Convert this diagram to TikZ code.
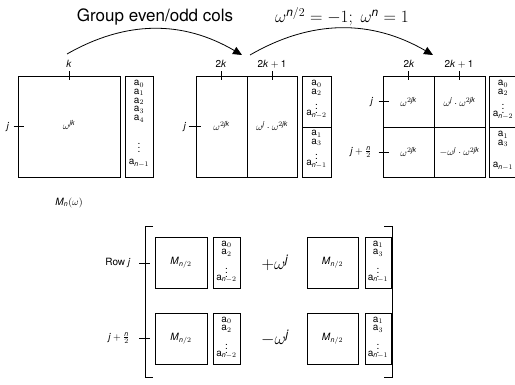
\documentclass[tikz,border=0pt]{standalone}
\usepackage{amsmath}
\usepackage{fontspec}
\setmainfont{TeX Gyre Heros}
\usetikzlibrary{arrows.meta}
\newcommand{\vi}[1]{\textit{#1}}
\begin{document}
\begin{tikzpicture}[x=1pt,y=-1pt,
  bx/.style={draw, line width=0.8pt, inner sep=0pt},
  tx/.style={inner sep=0pt, font=\fontsize{10}{10}\selectfont},
  vec/.style={inner sep=0pt, align=center, font=\fontsize{10}{8.8}\selectfont},
  big/.style={inner sep=0pt, font=\fontsize{17}{20}\selectfont},
  tk/.style={line width=0.8pt},
  arr/.style={line width=0.8pt, -{Triangle[length=9pt,width=8pt]}}]
\useasboundingbox (0,0) rectangle (515,385);

% titles
\node[big] (t1) at (155,17) {Group even/odd cols};
\node[big] (t2) at (342,17) {$\omega^{\vi{n}/2} = -1;\ \omega^{\vi{n}} = 1$};

% ---------- matrix 1
\node[bx, minimum width=102, minimum height=101] (M1) at (69,126.5) {};
\node[tx] (M1t) at (69,125) {$\omega^{\vi{jk}}$};
\node[bx, minimum width=28, minimum height=101] (V1) at (139,126.5) {};
\node[vec, anchor=north] (V1t) at (139,80) {a$_0$\\a$_1$\\a$_2$\\a$_3$\\a$_4$};
\node[vec] (V1d) at (139,145) {$\vdots$};
\node[vec] (V1e) at (139,163) {a$_{\vi{n}-1}$};
\draw[tk] ([yshift=-4]M1.north) -- ([yshift=5]M1.north);
\node[tx] (k1) at (69,64) {\vi{k}};
\draw[tk] ([xshift=-4]M1.west) -- ([xshift=6]M1.west);
\node[tx] (j1) at (8,127) {\vi{j}};
\node[tx] (Mn) at (69,203) {\vi{M}$_{\vi{n}}(\omega)$};

% ---------- matrix 2
\node[bx, minimum width=51, minimum height=101] (L2) at (221.5,126.5) {};
\node[bx, minimum width=50, minimum height=101] (R2) at (272,126.5) {};
\node[tx] (L2t) at (221.5,126) {$\omega^{2\vi{jk}}$};
\node[tx] (R2t) at (272,126) {$\omega^{\vi{j}}\cdot\omega^{2\vi{jk}}$};
\node[bx, minimum width=29, minimum height=51] (V2a) at (316.5,101.5) {};
\node[bx, minimum width=29, minimum height=50] (V2b) at (316.5,152) {};
\node[vec, anchor=north] (V2at) at (316.5,80) {a$_0$\\a$_2$};
\node[vec] (V2ad) at (316.5,106) {$\vdots$};
\node[vec] (V2ae) at (316.5,114) {a$_{\vi{n}-2}$};
\node[vec, anchor=north] (V2bt) at (316.5,130) {a$_1$\\a$_3$};
\node[vec] (V2bd) at (316.5,156) {$\vdots$};
\node[vec] (V2be) at (316.5,164) {a$_{\vi{n}-1}$};
\draw[tk] ([yshift=-4]L2.north) -- ([yshift=5]L2.north);
\draw[tk] ([yshift=-4]R2.north) -- ([yshift=5]R2.north);
\node[tx] (k2) at (221,64) {2\vi{k}};
\node[tx] (k2b) at (272,64) {2\vi{k}${}+{}$1};
\draw[tk] ([xshift=-7]L2.west) -- ([xshift=5]L2.west);
\node[tx] (j2) at (185,127) {\vi{j}};

% ---------- matrix 3
\node[bx, minimum width=51, minimum height=51] (A3) at (408.5,101.5) {};
\node[bx, minimum width=51, minimum height=51] (B3) at (459.5,101.5) {};
\node[bx, minimum width=51, minimum height=50] (C3) at (408.5,152) {};
\node[bx, minimum width=51, minimum height=50] (D3) at (459.5,152) {};
\node[tx] (A3t) at (408.5,102) {$\omega^{2\vi{jk}}$};
\node[tx] (B3t) at (459.5,102) {$\omega^{\vi{j}}\cdot\omega^{2\vi{jk}}$};
\node[tx] (C3t) at (408.5,152) {$\omega^{2\vi{jk}}$};
\node[tx] (D3t) at (459.5,152) {$-\omega^{\vi{j}}\cdot\omega^{2\vi{jk}}$};
\node[bx, minimum width=28, minimum height=51] (V3a) at (503,101.5) {};
\node[bx, minimum width=28, minimum height=50] (V3b) at (503,152) {};
\node[vec, anchor=north] (V3at) at (503,80) {a$_0$\\a$_2$};
\node[vec] (V3ad) at (503,106) {$\vdots$};
\node[vec] (V3ae) at (503,115) {a$_{\vi{n}-2}$};
\node[vec, anchor=north] (V3bt) at (503,131) {a$_1$\\a$_3$};
\node[vec] (V3be) at (503,166) {a$_{\vi{n}-1}$};
\draw[tk] ([yshift=-4]A3.north) -- ([yshift=5]A3.north);
\draw[tk] ([yshift=-4]B3.north) -- ([yshift=5]B3.north);
\node[tx] (k3) at (409,64) {2\vi{k}};
\node[tx] (k3b) at (459,64) {2\vi{k}${}+{}$1};
\draw[tk] ([xshift=-4]A3.west) -- ([xshift=6]A3.west);
\draw[tk] ([xshift=-4]C3.west) -- ([xshift=6]C3.west);
\node[tx] (j3) at (372,102) {\vi{j}};
\node[tx] (j3b) at (361,152) {\vi{j}${}+\frac{\vi{n}}{2}$};

% arrows
\coordinate (a1s) at (67,54);
\coordinate (a1e) at (242,55);
\coordinate (a2s) at (250,55);
\coordinate (a2e) at (433,55);
\draw[arr] (a1s) to[bend left=30] (a1e);
\draw[arr] (a2s) to[bend left=30] (a2e);

% ---------- bottom
\draw[tk] (153,226) -- (145,226) -- (145,377) -- (153,377);
\draw[tk] (384,226) -- (392,226) -- (392,377) -- (384,377);
\draw[tk] (139,263) -- (150,263);
\draw[tk] (139,338) -- (150,338);
\node[tx] (rowj) at (118,263) {Row \vi{j}};
\node[tx] (rowjn) at (119,338) {\vi{j}${}+\frac{\vi{n}}{2}$};

\foreach \r/\yy in {P/262.5, Q/338.5}{
  \node[bx, minimum width=52, minimum height=51] (\r m1) at (181,\yy) {};
  \node[tx] at (181,\yy) {\vi{M}$_{\vi{n}/2}$};
  \node[bx, minimum width=27, minimum height=51] (\r v1) at (226.5,\yy) {};
  \node[vec, anchor=north] at (226.5,\yy-22) {a$_0$\\a$_2$};
  \node[vec] at (226.5,\yy+7) {$\vdots$};
  \node[vec] at (226.5,\yy+16) {a$_{\vi{n}-2}$};
  \node[bx, minimum width=51, minimum height=51] (\r m2) at (332.5,\yy) {};
  \node[tx] at (332.5,\yy) {\vi{M}$_{\vi{n}/2}$};
  \node[bx, minimum width=26, minimum height=51] (\r v2) at (378,\yy) {};
  \node[vec, anchor=north] at (378,\yy-22) {a$_1$\\a$_3$};
  \node[vec] at (378,\yy+7) {$\vdots$};
  \node[vec] at (378,\yy+16) {a$_{\vi{n}-1}$};
}
\node[big] (plus) at (275,263) {$+\omega^{\vi{j}}$};
\node[big] (minus) at (275,338) {$-\omega^{\vi{j}}$};
\end{tikzpicture}
\end{document}
